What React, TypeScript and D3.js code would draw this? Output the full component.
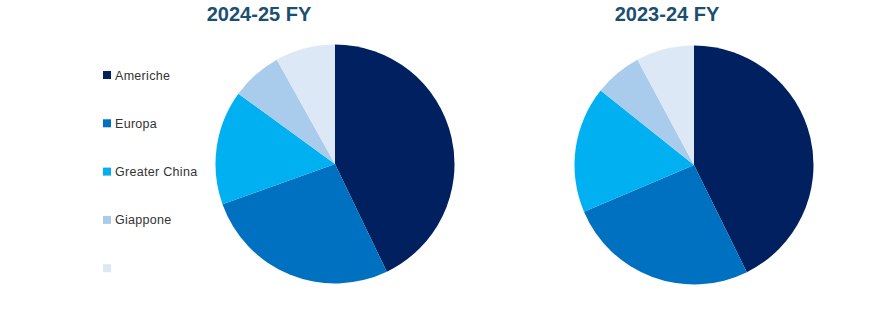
import React from "react";
import * as d3 from "d3";

const categories = ["Americhe", "Europa", "Greater China", "Giappone", ""];
const colors = ["#002060", "#0070C0", "#00B0F0", "#A9CBEC", "#DCE8F6"];
const titles = ["2024-25 FY", "2023-24 FY"];
const valuesFY25 = [178.4, 111.0, 64.4, 28.7, 33.7];
const valuesFY24 = [167.0, 101.3, 66.9, 25.1, 30.7];
const seriesList = [valuesFY25, valuesFY24];

const W = 870;
const H = 313;
const R = 119.5;
const pies = [
  { cx: 335, cy: 164, tx: 259 },
  { cx: 694, cy: 165, tx: 667 },
];

export default function App() {
  const pie = d3.pie<number>().sort(null).value((d) => d);
  const arc = d3.arc<d3.PieArcDatum<number>>().innerRadius(0).outerRadius(R);
  return (
    <svg
      width={W}
      height={H}
      style={{ position: "absolute", left: 0, top: 0, fontFamily: "'Liberation Sans', Arial, sans-serif" }}
    >
      <rect width={W} height={H} fill="#fff" />
      {seriesList.map((vals, i) => (
        <g key={i}>
          <text
            x={pies[i].tx}
            y={21}
            textAnchor="middle"
            fontSize={20}
            fontWeight="bold"
            fill="#1B4F72"
          >
            {titles[i]}
          </text>
          <g transform={`translate(${pies[i].cx},${pies[i].cy})`}>
            {pie(vals).map((a, j) => (
              <path key={j} d={arc(a) || ""} fill={colors[j]} />
            ))}
          </g>
        </g>
      ))}
      {categories.map((c, j) => (
        <g key={c + j} transform={`translate(103,${75 + j * 48.3})`}>
          <rect x={0} y={-4} width={8} height={8} fill={colors[j]} />
          <text x={12} y={4.5} fontSize={12.5} letterSpacing={0.3} fill="#333">
            {c}
          </text>
        </g>
      ))}
    </svg>
  );
}
